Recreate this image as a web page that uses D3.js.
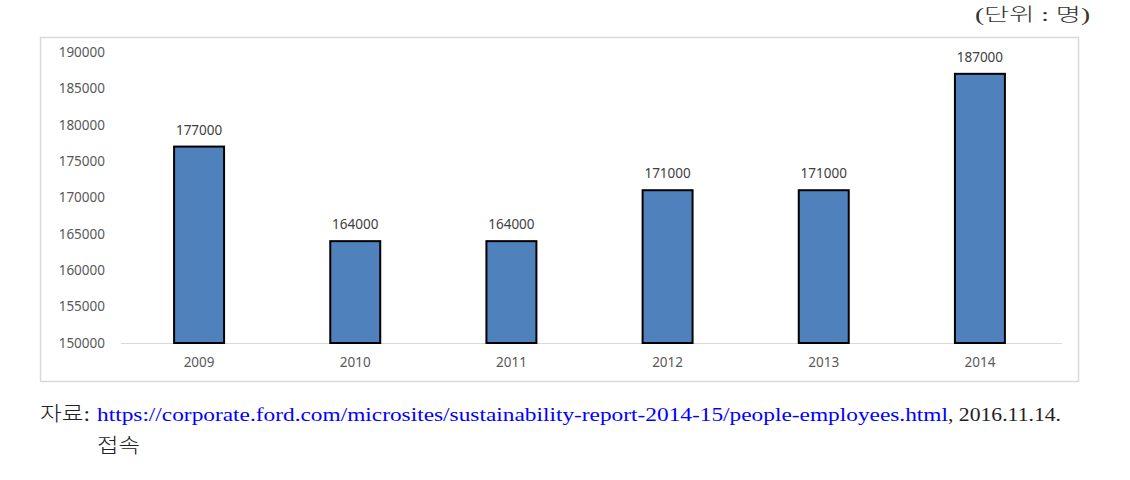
<!DOCTYPE html>
<html><head><meta charset="utf-8">
<script src="https://cdn.jsdelivr.net/npm/d3@7"></script>
<style>body{margin:0;background:#fff;}svg{display:block;}</style>
</head><body>
<svg id="c" width="1130" height="480"></svg>
<script>
const years = ["2009","2010","2011","2012","2013","2014"];
const employees = [177000,164000,164000,171000,171000,187000];
const yTicks = [150000,155000,160000,165000,170000,175000,180000,185000,190000];
const unitText = "(단위 : 명)";
const sourceLabel = "자료:";
const sourceUrl = "https://corporate.ford.com/microsites/sustainability-report-2014-15/people-employees.html";
const sourceDate = ", 2016.11.14.";
const sourceLine2 = "접속";

const svg = d3.select("#c");
const sans = "'Malgun Gothic','Noto Sans','Open Sans',sans-serif";
const serif = "'Liberation Serif','Noto Sans CJK KR',serif";

// frame
svg.append("rect").attr("x",40.5).attr("y",37.5).attr("width",1038).attr("height",344)
  .attr("fill","#fff").attr("stroke","#d9d9d9").attr("stroke-width",1.5);

const x = d3.scaleBand().domain(years).range([121,1058]).paddingInner(0.68).paddingOuter(0.34);
const y = d3.scaleLinear().domain([150000,190000]).range([343,52]);

// baseline
svg.append("line").attr("x1",121).attr("x2",1062).attr("y1",343.5).attr("y2",343.5)
  .attr("stroke","#d9d9d9").attr("stroke-width",1);

// y axis labels
const yAxis = d3.axisLeft(y).tickValues(yTicks).tickSize(0).tickPadding(0).tickFormat(d3.format("d"));
const ga = svg.append("g").attr("transform","translate(105,0)").call(yAxis);
ga.select(".domain").remove();
ga.selectAll("text").attr("font-family",sans).attr("font-size",13.5).attr("fill","#595959");

// x axis labels
const xAxis = d3.axisBottom(x).tickSize(0).tickPadding(0);
const gx = svg.append("g").attr("transform","translate(0,357)").call(xAxis);
gx.select(".domain").remove();
gx.selectAll("text").attr("font-family",sans).attr("font-size",13.5).attr("fill","#595959").attr("dy","0.71em");

// bars
svg.selectAll("rect.bar").data(years).join("rect").attr("class","bar")
  .attr("x",d=>x(d)).attr("width",x.bandwidth())
  .attr("y",(d,i)=>y(employees[i])).attr("height",(d,i)=>y(150000)-y(employees[i]))
  .attr("fill","#4f81bd").attr("stroke","#000").attr("stroke-width",2);

// value labels
svg.selectAll("text.val").data(years).join("text").attr("class","val")
  .attr("x",d=>x(d)+x.bandwidth()/2).attr("y",(d,i)=>y(employees[i])-12)
  .attr("text-anchor","middle").attr("font-family",sans).attr("font-size",13.5).attr("fill","#404040")
  .text((d,i)=>employees[i]);

// unit
svg.append("text").attr("x",975).attr("y",21)
  .attr("font-family",serif).attr("font-size",18).attr("font-weight",300).attr("fill","#333")
  .attr("textLength",115).attr("lengthAdjust","spacingAndGlyphs").text(unitText);

// source
svg.append("text").attr("x",40).attr("y",421).attr("font-family",serif).attr("font-size",20).attr("font-weight",300).attr("fill","#222")
  .attr("textLength",50).attr("lengthAdjust","spacingAndGlyphs").text(sourceLabel);
svg.append("text").attr("x",97).attr("y",421).attr("font-family",serif).attr("font-size",18).attr("fill","#0000ff")
  .attr("textLength",851).attr("lengthAdjust","spacingAndGlyphs").text(sourceUrl);
svg.append("text").attr("x",948).attr("y",421).attr("font-family",serif).attr("font-size",18).attr("fill","#222")
  .attr("textLength",113).attr("lengthAdjust","spacingAndGlyphs").text(sourceDate);
svg.append("text").attr("x",97).attr("y",453).attr("font-family",serif).attr("font-size",20).attr("font-weight",300).attr("fill","#222")
  .attr("textLength",43).attr("lengthAdjust","spacingAndGlyphs").text(sourceLine2);
</script>
</body></html>
